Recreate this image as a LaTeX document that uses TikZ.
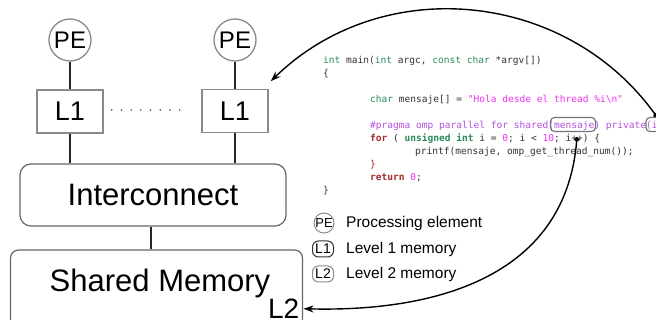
\documentclass[tikz,border=0pt]{standalone}
\usepackage{fontspec}
\setmainfont{Liberation Sans}
\newfontfamily\codefont{DejaVu Sans Mono}
\usetikzlibrary{arrows.meta}

\definecolor{edgegray}{RGB}{138,138,138}
\definecolor{cgreen}{RGB}{40,140,90}
\definecolor{cred}{RGB}{165,40,45}
\definecolor{cmag}{RGB}{240,50,240}
\definecolor{cpurple}{RGB}{180,80,220}
\definecolor{ctext}{RGB}{50,50,50}

\newcommand{\fs}[1]{\fontsize{#1}{#1}\selectfont}

\tikzset{
  pe/.style={circle,draw=edgegray,line width=1.3pt,minimum size=42pt,inner sep=0pt,font=\fs{24}},
  lone/.style={rectangle,draw=edgegray,line width=1.5pt,minimum width=66pt,minimum height=43pt,inner sep=0pt,font=\fs{27}},
  bus/.style={rectangle,rounded corners=11pt,draw=black!60,line width=1.2pt,minimum width=266pt,minimum height=62pt,inner sep=0pt,font=\fs{31}},
  mem/.style={rectangle,rounded corners=8pt,draw=black!60,line width=1.2pt,minimum width=292pt,minimum height=100pt,inner sep=0pt},
  wire/.style={line width=1.4pt,black!85},
  hl/.style={rectangle,rounded corners=4pt,draw=black!55,line width=1.1pt,minimum height=14pt,inner sep=0pt},
  link/.style={line width=1.4pt,{Circle[length=5pt]}-{Stealth[length=10pt,width=7pt]}},
  codeline/.style={anchor=base west,inner sep=0pt,text=ctext,font=\codefont\fs{9.55}},
  keytext/.style={anchor=west,inner sep=0pt,font=\fs{15.5}},
}

\begin{document}
\begin{tikzpicture}[x=1pt,y=-1pt]
\clip (0,0) rectangle (656,320);

% processing elements and their caches
\node[pe] (pea) at (70,40) {PE};
\node[pe] (peb) at (235,40) {PE};
\node[lone] (l1a) at (70,111.5) {L1};
\node[lone] (l1b) at (235,111) {L1};
\foreach \k in {0,...,7}
  \fill[black!75] ([xshift=8+9.7*\k,yshift=1.5]l1a.east) circle (0.85);

\node[bus] (ic) at (153,195) {Interconnect};
\node[mem] (sm) at (156.5,300) {};
\node[font=\fs{31}] (smtext) at (160,283) {Shared Memory};
\node[font=\fs{28},anchor=base east,inner sep=0pt] (l2) at (299.5,318.5) {L2};

\draw[wire] (pea) -- (l1a);
\draw[wire] (peb) -- (l1b);
\draw[wire] (l1a) -- (l1a |- ic.north);
\draw[wire] (l1b) -- (l1b |- ic.north);
\draw[wire] ([xshift=-2]ic.south) -- ([xshift=-2]ic.south |- sm.north);

% source code
\node[codeline] (c0) at (323,63.5) {\textcolor{cgreen}{int} main(\textcolor{cgreen}{int} argc, \textcolor{cgreen}{const} \textcolor{cgreen}{char} *argv[])};
\node[codeline] (c1) at (323,76.5) {\{};
\node[codeline] (c3) at (370,102.5) {\textcolor{cgreen}{char} mensaje[] = \textcolor{cmag}{"Hola desde el thread \%i\textbackslash n"}};
\node[codeline] (c5) at (370,128.5) {\textcolor{cpurple}{\#pragma omp parallel for shared(mensaje) private(i)}};
\node[codeline] (c6) at (370,141.5) {\textbf{\textcolor{cred}{for}} ( \textbf{\textcolor{cgreen}{unsigned int}} i = \textcolor{cmag}{0}; i < \textcolor{cmag}{10}; i++) \{};
\node[codeline] (c7) at (415,154.5) {printf(mensaje, omp\_get\_thread\_num());};
\node[codeline] (c8) at (370,167.5) {\textcolor{cred}{\}}};
\node[codeline] (c9) at (370,180.5) {\textbf{\textcolor{cred}{return}} \textcolor{cmag}{0};};
\node[codeline] (c10) at (323,193.5) {\}};

\node[hl,minimum width=45pt] (shr) at (573,124.5) {};
\node[hl,minimum width=22pt] (privi) at (657,124.5) {};
\coordinate (ipp) at (577,137);

% legend
\node[circle,draw=edgegray,line width=1pt,minimum size=20pt,inner sep=0pt,font=\fs{13}] (kpe) at (324,223) {PE};
\node[rectangle,rounded corners=6pt,draw=black!80,line width=1pt,minimum width=21pt,minimum height=16pt,inner sep=0pt,font=\fs{14}] (kl1) at (323,249) {L1};
\node[rectangle,rounded corners=6pt,draw=edgegray,line width=1pt,minimum width=21pt,minimum height=16pt,inner sep=0pt,font=\fs{14}] (kl2) at (323,274) {L2};
\node[keytext] (tpe) at (346,223) {Processing element};
\node[keytext] (tl1) at (346,249.5) {Level 1 memory};
\node[keytext] (tl2) at (346,274.5) {Level 2 memory};

% arrows
\draw[link] (privi.north) .. controls (565,-10) and (382,-27) .. ([shift={(2,-7.5)}]l1b.north east);
\draw[link] (ipp) .. controls (565,280) and (430,312) .. ([xshift=4]l2.east);
\end{tikzpicture}
\end{document}
